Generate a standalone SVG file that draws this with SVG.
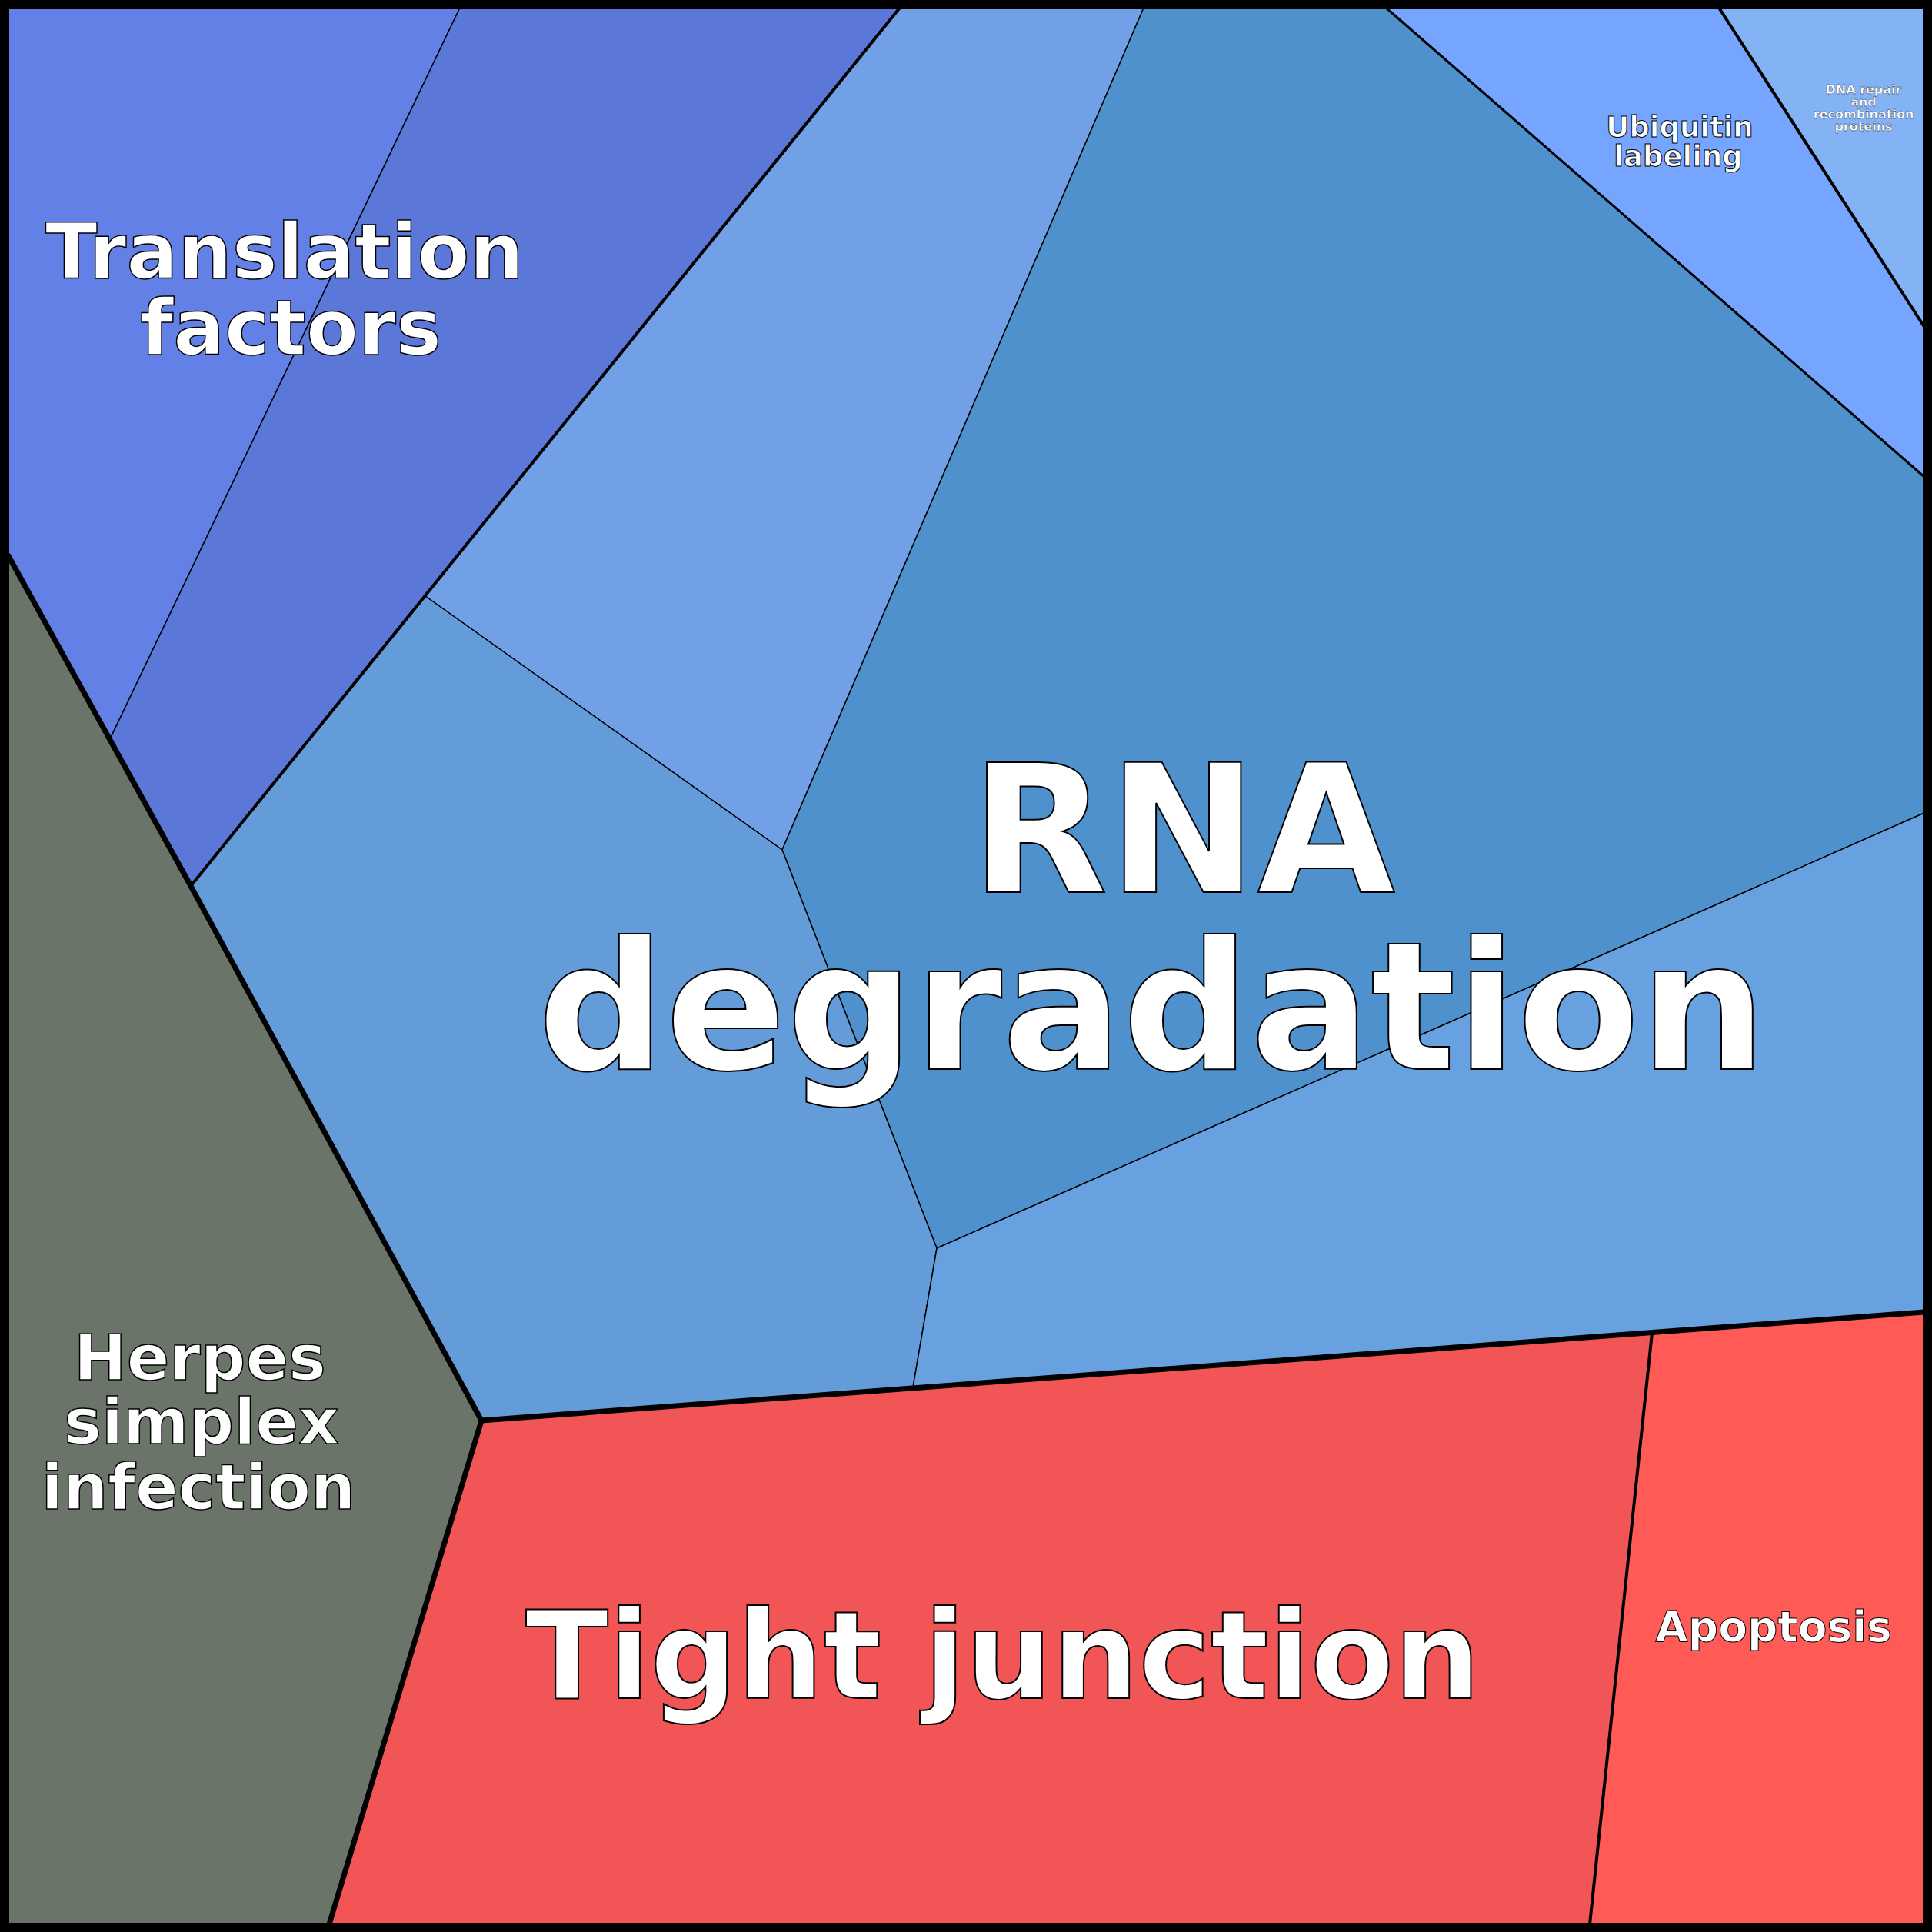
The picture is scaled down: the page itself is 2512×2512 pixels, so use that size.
<svg xmlns="http://www.w3.org/2000/svg" width="2512" height="2512" viewBox="0 0 2512 2512">
<style>
.c{stroke:#000;stroke-width:1.5}
.t{font-family:"DejaVu Sans",sans-serif;font-weight:bold;fill:#fff;stroke:#000;text-anchor:middle}
.th{fill:none;stroke:#000;stroke-linejoin:round}
</style>
<rect width="2512" height="2512" fill="#fff"/>
<g id="cells">
<polygon id="transl1" class="c" fill="#6380E6" points="10,10 598,10 143,961 10,721"/>
<polygon id="transl2" class="c" fill="#5B78D8" points="598,10 1170,10 553,775 248,1152 143,961"/>
<polygon id="rna1" class="c" fill="#71A0E6" points="1170,10 1487,10 1017,1105 553,775"/>
<polygon id="rna2" class="c" fill="#4F91CC" points="1487,10 1802,10 2502,620 2502,1057 1218,1623 1017,1105"/>
<polygon id="ubiq" class="c" fill="#76A5FF" points="1802,10 2235,10 2502,425 2502,620"/>
<polygon id="dna" class="c" fill="#84B3F5" points="2235,10 2502,10 2502,425"/>
<polygon id="rna3" class="c" fill="#649BD9" points="553,775 1017,1105 1218,1623 1187,1804 626,1847 248,1152"/>
<polygon id="rna4" class="c" fill="#68A1E0" points="1218,1623 2502,1057 2502,1706 1187,1804"/>
<polygon id="herpes" class="c" fill="#6B7468" points="10,721 248,1152 626,1847 428,2502 10,2502"/>
<polygon id="tight" class="c" fill="#F25555" points="626,1847 2148,1733 2067,2502 428,2502"/>
<polygon id="apop" class="c" fill="#FF5A55" points="2148,1733 2502,1706 2502,2502 2067,2502"/>
</g>
<g id="borders">
<polyline class="th" stroke-width="4" points="1170,10 248,1152"/>
<polyline class="th" stroke-width="4" points="2235,10 2502,425"/>
<polyline class="th" stroke-width="3" points="1802,10 2502,620"/>
<polyline class="th" stroke-width="7" points="10,721 248,1152 626,1847 428,2502"/>
<polyline class="th" stroke-width="7" points="626,1847 2502,1706"/>
<polyline class="th" stroke-width="4" points="2148,1733 2067,2502"/>
<rect x="6" y="6" width="2500" height="2500" fill="none" stroke="#000" stroke-width="12"/>
</g>
<g id="labels">
<text class="t" font-size="99" stroke-width="1.5" x="370" y="362">Translation<tspan x="378" y="461">factors</tspan></text>
<text class="t" font-size="232" stroke-width="2" x="1538" y="1160">RNA<tspan x="1498" y="1390">degradation</tspan></text>
<text class="t" font-size="158" stroke-width="2" x="1304" y="2208">Tight junction</text>
<text class="t" font-size="82" stroke-width="1.5" x="260" y="1794">Herpes<tspan x="262" y="1877">simplex</tspan><tspan x="258" y="1962">infection</tspan></text>
<text class="t" font-size="37" stroke-width="1" x="2184" y="178">Ubiquitin<tspan x="2182" y="216">labeling</tspan></text>
<text class="t" font-size="55" stroke-width="1" x="2306" y="2134">Apoptosis</text>
<text class="t" font-size="16" font-weight="normal" stroke-width="0.3" x="2423" y="122">DNA repair<tspan x="2423" y="138">and</tspan><tspan x="2423" y="154">recombination</tspan><tspan x="2423" y="170">proteins</tspan></text>
</g>
</svg>
